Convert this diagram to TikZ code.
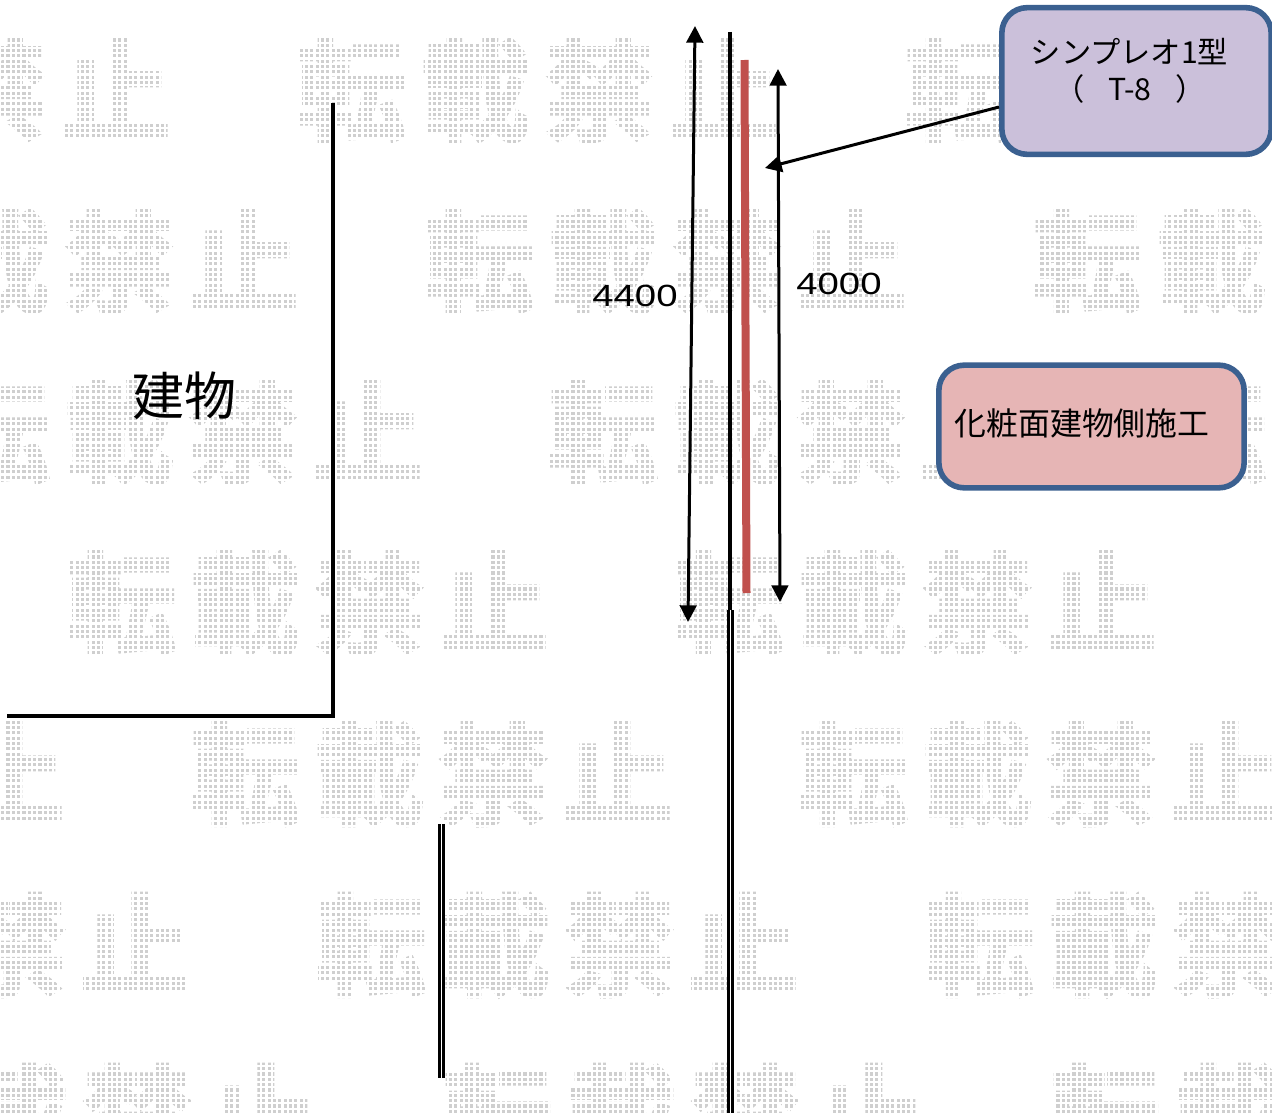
\documentclass[tikz,border=0pt]{standalone}
\usepackage{fontspec}
\usetikzlibrary{arrows.meta}
\setmainfont{Liberation Sans}
\newfontfamily\cjk{Noto Sans CJK JP}
\newfontfamily\cjkb[FakeBold=2.5]{Noto Sans CJK JP Bold}
\definecolor{wm}{HTML}{CFCFCF}
\definecolor{boxedge}{HTML}{3B6090}
\definecolor{purplefill}{HTML}{CBC0DA}
\definecolor{pinkfill}{HTML}{E6B5B5}
\definecolor{barred}{HTML}{C0504D}
\tikzset{
  wmark/.style={anchor=north west,inner sep=0pt,outer sep=0pt,text=wm,font=\fontsize{83pt}{83pt}\cjkb},
  thick line/.style={black,line width=2.4pt},
  twin line/.style={black,line width=2.5pt},
  dim/.style={black,line width=2.25pt,{Triangle[length=12.5pt,width=12.5pt]}-{Triangle[length=12.5pt,width=12.5pt]}},
  callout/.style={black,line width=2.25pt,-{Triangle[length=12.5pt,width=12.5pt]}},
  info/.style={draw=boxedge,line width=4.2pt,rounded corners=19pt,inner sep=0pt,outer sep=2.1pt},
  dimtext/.style={font=\fontsize{23pt}{23pt}\selectfont,inner sep=0pt,xscale=1.25},
}
\newcommand{\wmrow}[2]{%
  \foreach \k/\g in {0/転,1/載,2/禁,3/止}{%
    \node[wmark] at ({#1+124*\k},#2) {\g};
  }%
}
\begin{document}
\begin{tikzpicture}[x=0.75pt,y=-0.75pt]
\useasboundingbox (0,0) rectangle (1272,1113);
\fill[white] (0,0) rectangle (1272,1113);
% watermark rows
\foreach \r/\ya in {300/38,428/209,552/380,70/551,194/722,320/893,446/1064}{
  \wmrow{\r-4}{\ya}
  \wmrow{\r+604}{\ya}
  \wmrow{\r-612}{\ya}
}
% dot screen over the watermark
\foreach \i in {0,...,239}{
  \draw[white,line width=1.7pt] ({\i*5.33},0) -- ({\i*5.33},1113);
}
\foreach \i in {0,...,209}{
  \draw[white,line width=1.7pt] (0,{\i*5.33}) -- (1272,{\i*5.33});
}
% building outline
\draw[thick line,line join=miter] (333,103) -- (333,716) -- (7,716);
\node[inner sep=0pt,font=\fontsize{39pt}{39pt}\cjk] (bld) at (184,396) {建物};
% verticals
\draw[thick line] (730,32) -- (730,610);
\draw[twin line] (728.4,610) -- (728.4,1113);
\draw[twin line] (732.4,610) -- (732.4,1113);
\draw[twin line] (439.7,824) -- (439.7,1078);
\draw[twin line] (443.7,824) -- (443.7,1078);
\draw[barred,line width=6pt] (744.5,60) -- (746.5,593);
% dimensions
\coordinate (d1a) at (695,26);
\coordinate (d1b) at (688,622);
\coordinate (d2a) at (778,69);
\coordinate (d2b) at (780,602);
\draw[dim] (d1a) -- (d1b);
\draw[dim] (d2a) -- (d2b);
\node[dimtext] (t4400) at (635,296) {4400};
\node[dimtext] (t4000) at (839,284) {4000};
% boxes
\node[info,fill=purplefill,minimum width=202pt,minimum height=110pt] (simple) at (1136.5,81) {};
\node[font=\fontsize{22.7pt}{22.7pt}\cjk,inner sep=0pt] (simpleA) at (1129.5,52) {シンプレオ1型};
\node[font=\fontsize{22.7pt}{22.7pt}\cjk,inner sep=0pt] (simpleB) at (1130,89) {（\hspace{18pt}T-8\hspace{18pt}）};
\node[info,fill=pinkfill,minimum width=229pt,minimum height=92pt] (pink) at (1091.5,426.5) {};
\node[inner sep=0pt,font=\fontsize{23.9pt}{23.9pt}\cjk] (pinktext) at (1082,423) {化粧面建物側施工};
\coordinate (ctip) at (765,168);
\draw[callout] (simple.west |- 0,107) -- (ctip);
\end{tikzpicture}
\end{document}
